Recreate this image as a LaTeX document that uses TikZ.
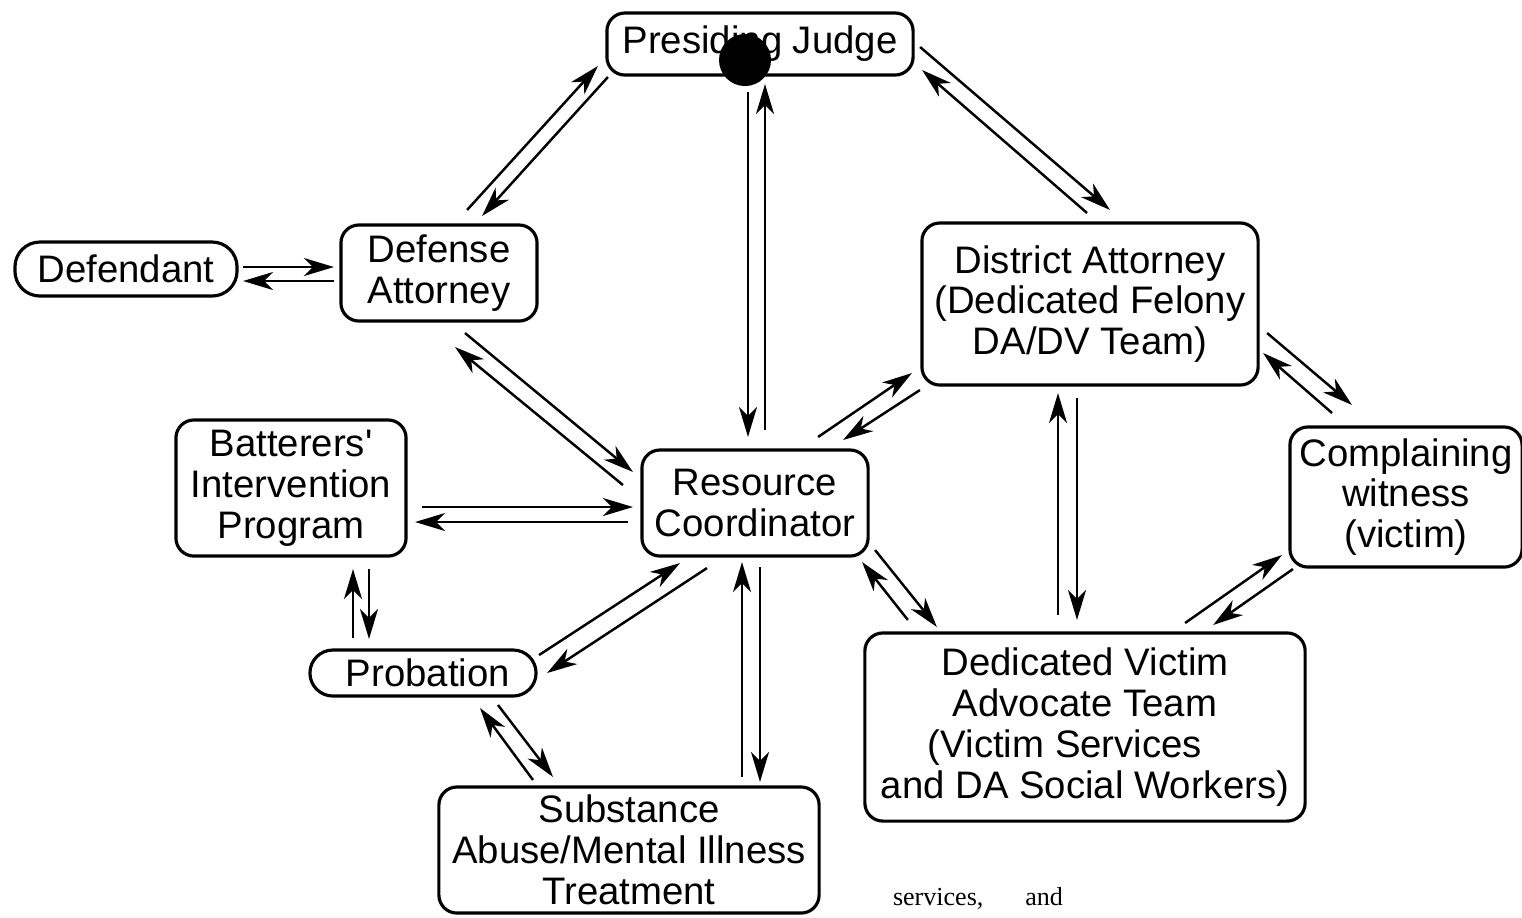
\documentclass[tikz,border=0pt]{standalone}
\usepackage{fontspec}
\setmainfont{Liberation Sans}
\newfontfamily\notefont{Liberation Serif}
\usetikzlibrary{arrows.meta}

\tikzset{
  office/.style={draw, line width=0.9pt, rounded corners=0.18cm, inner sep=0pt, outer sep=0pt,
    align=center, font=\fontsize{10.9}{11.6}\selectfont},
  person/.style={office, rounded corners=0.25cm},
  link/.style={line width=0.7pt, -{Stealth[length=0.3cm, width=0.18cm, inset=0.09cm]}}
}

\begin{document}
\begin{tikzpicture}[x=0.01cm, y=-0.01cm]
	\useasboundingbox (0,0) rectangle (1522,917);

	\node[office, minimum width=3.06cm, minimum height=0.62cm] (judge) at (760,44) {Presiding Judge};
	\node[person, minimum width=2.22cm, minimum height=0.54cm] (defendant) at (126,269) {Defendant};
	\node[office, minimum width=1.96cm, minimum height=0.96cm] (defense) at (439,273) {Defense\\Attorney};
	\node[office, minimum width=3.36cm, minimum height=1.62cm] (da) at (1090,304) {District Attorney\\(Dedicated Felony\\DA/DV Team)};
	\node[office, minimum width=2.32cm, minimum height=1.40cm] (cw) at (1406,497) {Complaining\\witness\\(victim)};
	\node[office, minimum width=2.26cm, minimum height=1.06cm] (rc) at (755,503) {Resource\\Coordinator};
	\node[office, minimum width=2.30cm, minimum height=1.36cm] (bip) at (291,488) {Batterers\textquotesingle\\Intervention\\Program};
	\node[person, rounded corners=0.23cm, minimum width=2.26cm, minimum height=0.46cm] (prob) at (423,673) {\rule{0.1cm}{0pt}Probation};
	\node[office, minimum width=3.80cm, minimum height=1.26cm] (sub) at (629,850) {Substance\\Abuse/Mental Illness\\Treatment};
	\node[office, minimum width=4.40cm, minimum height=1.88cm] (dvat) at (1085,727) {Dedicated Victim\\Advocate Team\\(Victim Services\rule{0.4cm}{0pt}\\and DA Social Workers)};

	\fill (745,60) circle [radius=0.26cm];
	\node[font=\notefont\fontsize{7.4}{9}\selectfont, anchor=base, inner sep=0pt] (note) at (978,905) {services,\hspace{0.42cm}and};

	\draw[link] ([shift={(-70,-15)}]defense.north east) -- ([shift={(-9,-9)}]judge.south west);
	\draw[link] ([shift={(1,2)}]judge.south west) -- ([shift={(-55,-9)}]defense.north east);
	\draw[link] ([shift={(-12,17)}]judge.south) -- ([shift={(-7,-13)}]rc.north);
	\draw[link] ([shift={(10,-20)}]rc.north) -- ([shift={(5,9)}]judge.south);
	\draw[link] ([shift={(7,3)}]judge.east) -- ([shift={(20,-13)}]da.north);
	\draw[link] ([shift={(-3,-10)}]da.north) -- ([shift={(9,-5)}]judge.south east);

	\draw[link] ([shift={(6,-2)}]defendant.east) -- ([shift={(-7,-6)}]defense.west);
	\draw[link] ([shift={(-7,8)}]defense.west) -- ([shift={(6,12)}]defendant.east);
	\draw[link] ([shift={(26,12)}]defense.south) -- ([shift={(-9,22)}]rc.north west);
	\draw[link] ([shift={(-19,-18)}]rc.west) -- ([shift={(16,26)}]defense.south);

	\draw[link] ([shift={(16,19)}]bip.east) -- ([shift={(-9,4)}]rc.west);
	\draw[link] ([shift={(-14,19)}]rc.west) -- ([shift={(9,34)}]bip.east);
	\draw[link] ([shift={(-70,-12)}]prob.north) -- ([shift={(62,13)}]bip.south);
	\draw[link] ([shift={(78,13)}]bip.south) -- ([shift={(-54,-11)}]prob.north);

	\draw[link] ([shift={(3,-18)}]prob.east) -- ([shift={(-75,7)}]rc.south);
	\draw[link] ([shift={(-48,12)}]rc.south) -- ([shift={(11,0)}]prob.east);
	\draw[link] ([shift={(-96,-7)}]sub.north) -- ([shift={(57,12)}]prob.south);
	\draw[link] ([shift={(75,9)}]prob.south) -- ([shift={(-76,-10)}]sub.north);
	\draw[link] ([shift={(113,-10)}]sub.north) -- ([shift={(-13,6)}]rc.south);
	\draw[link] ([shift={(5,11)}]rc.south) -- ([shift={(131,-5)}]sub.north);

	\draw[link] ([shift={(-50,-13)}]rc.north east) -- ([shift={(-10,-12)}]da.south west);
	\draw[link] ([shift={(-2,5)}]da.south west) -- ([shift={(-25,-10)}]rc.north east);
	\draw[link] ([shift={(-27,-18)}]dvat.north) -- ([shift={(-32,8)}]da.south);
	\draw[link] ([shift={(-13,13)}]da.south) -- ([shift={(-8,-13)}]dvat.north);
	\draw[link] ([shift={(43,-13)}]dvat.north west) -- ([shift={(-6,6)}]rc.south east);
	\draw[link] ([shift={(7,-6)}]rc.south east) -- ([shift={(72,-6)}]dvat.north west);

	\draw[link] ([shift={(-120,-10)}]dvat.north east) -- ([shift={(-8,-12)}]cw.south west);
	\draw[link] ([shift={(3,2)}]cw.south west) -- ([shift={(-92,-8)}]dvat.north east);
	\draw[link] ([shift={(9,29)}]da.east) -- ([shift={(-54,-22)}]cw.north);
	\draw[link] ([shift={(-74,-14)}]cw.north) -- ([shift={(5,49)}]da.east);
\end{tikzpicture}
\end{document}
